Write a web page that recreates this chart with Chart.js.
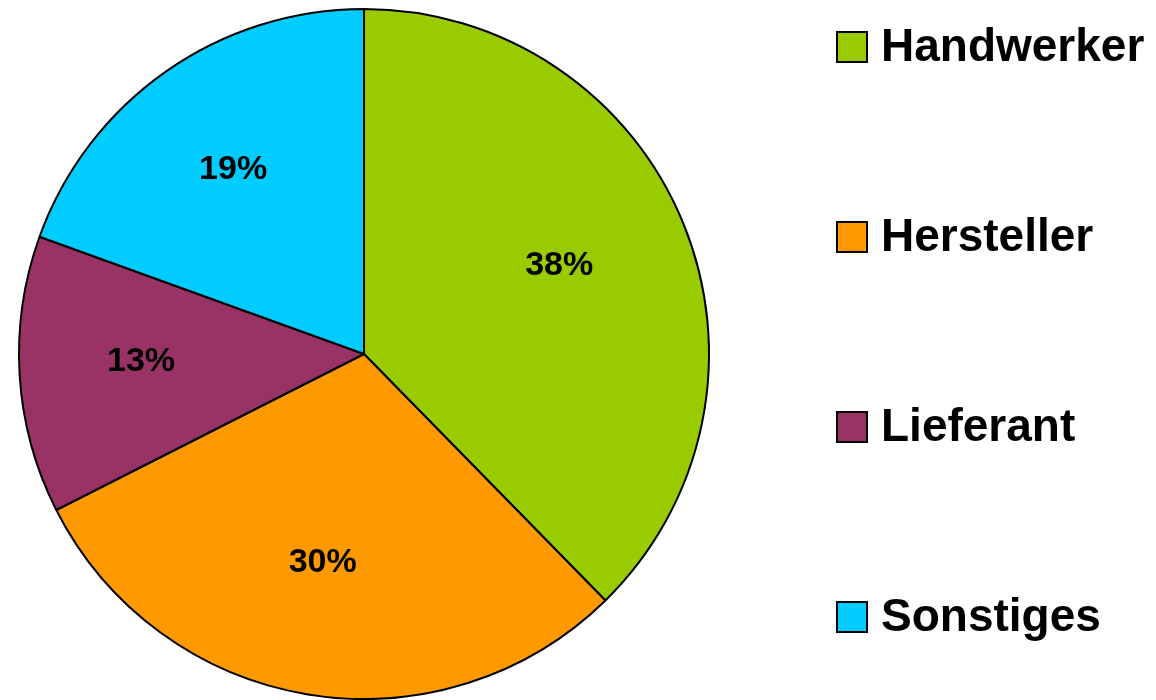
<!DOCTYPE html>
<html>
<head>
<meta charset="utf-8">
<script src="https://cdn.jsdelivr.net/npm/chart.js@4/dist/chart.umd.min.js"></script>
<style>
  html, body { margin: 0; padding: 0; background: #fff; }
  #wrap { width: 1156px; height: 700px; }
</style>
</head>
<body>
<div id="wrap"><canvas id="pieChart" width="1156" height="700"></canvas></div>
<script>
// --- data ---
const categories = ['Handwerker', 'Hersteller', 'Lieferant', 'Sonstiges'];
const counts = [29, 23, 10, 15];
const sliceColors = ['#99CC00', '#FF9900', '#993366', '#00CCFF'];

const FONT = '"Liberation Sans", Arial, sans-serif';

// percentage labels inside the slices
const sliceLabels = {
    id: 'sliceLabels',
    afterDatasetsDraw(chart) {
        const c = chart.ctx;
        const meta = chart.getDatasetMeta(0);
        const total = counts.reduce((a, b) => a + b, 0);
        c.save();
        c.font = 'bold 34px ' + FONT;
        c.fillStyle = '#000';
        c.textAlign = 'center';
        c.textBaseline = 'middle';
        meta.data.forEach((arc, i) => {
            const p = arc.getProps(['x', 'y', 'startAngle', 'endAngle', 'outerRadius'], true);
            const mid = (p.startAngle + p.endAngle) / 2;
            const r = p.outerRadius * 0.63;
            const pct = Math.round(counts[i] / total * 100) + '%';
            c.fillText(pct, p.x + Math.cos(mid) * r - 6, p.y + Math.sin(mid) * r - 6);
        });
        c.restore();
    }
};

// legend on the right, spread over the full height
const sideLegend = {
    id: 'sideLegend',
    afterDraw(chart) {
        const c = chart.ctx;
        c.save();
        c.font = 'bold 46px ' + FONT;
        c.textAlign = 'left';
        c.textBaseline = 'alphabetic';
        categories.forEach((name, i) => {
            const cy = 47 + i * 190;
            c.fillStyle = sliceColors[i];
            c.fillRect(837, cy - 15, 30, 30);
            c.lineWidth = 2;
            c.strokeStyle = '#000';
            c.strokeRect(837, cy - 15, 30, 30);
            c.fillStyle = '#000';
            c.fillText(name, 881, cy + 14);
        });
        c.restore();
    }
};

const ctx = document.getElementById('pieChart').getContext('2d');
const pieChart = new Chart(ctx, {
    type: 'pie',
    data: {
        labels: categories,
        datasets: [{
            data: counts,
            backgroundColor: sliceColors,
            borderColor: '#000',
            borderWidth: 2
        }]
    },
    options: {
        responsive: false,
        animation: false,
        layout: { padding: { left: 18, right: 446, top: 8, bottom: 0 } },
        plugins: {
            legend: { display: false },
            tooltip: { enabled: false }
        }
    },
    plugins: [sliceLabels, sideLegend]
});
</script>
</body>
</html>
